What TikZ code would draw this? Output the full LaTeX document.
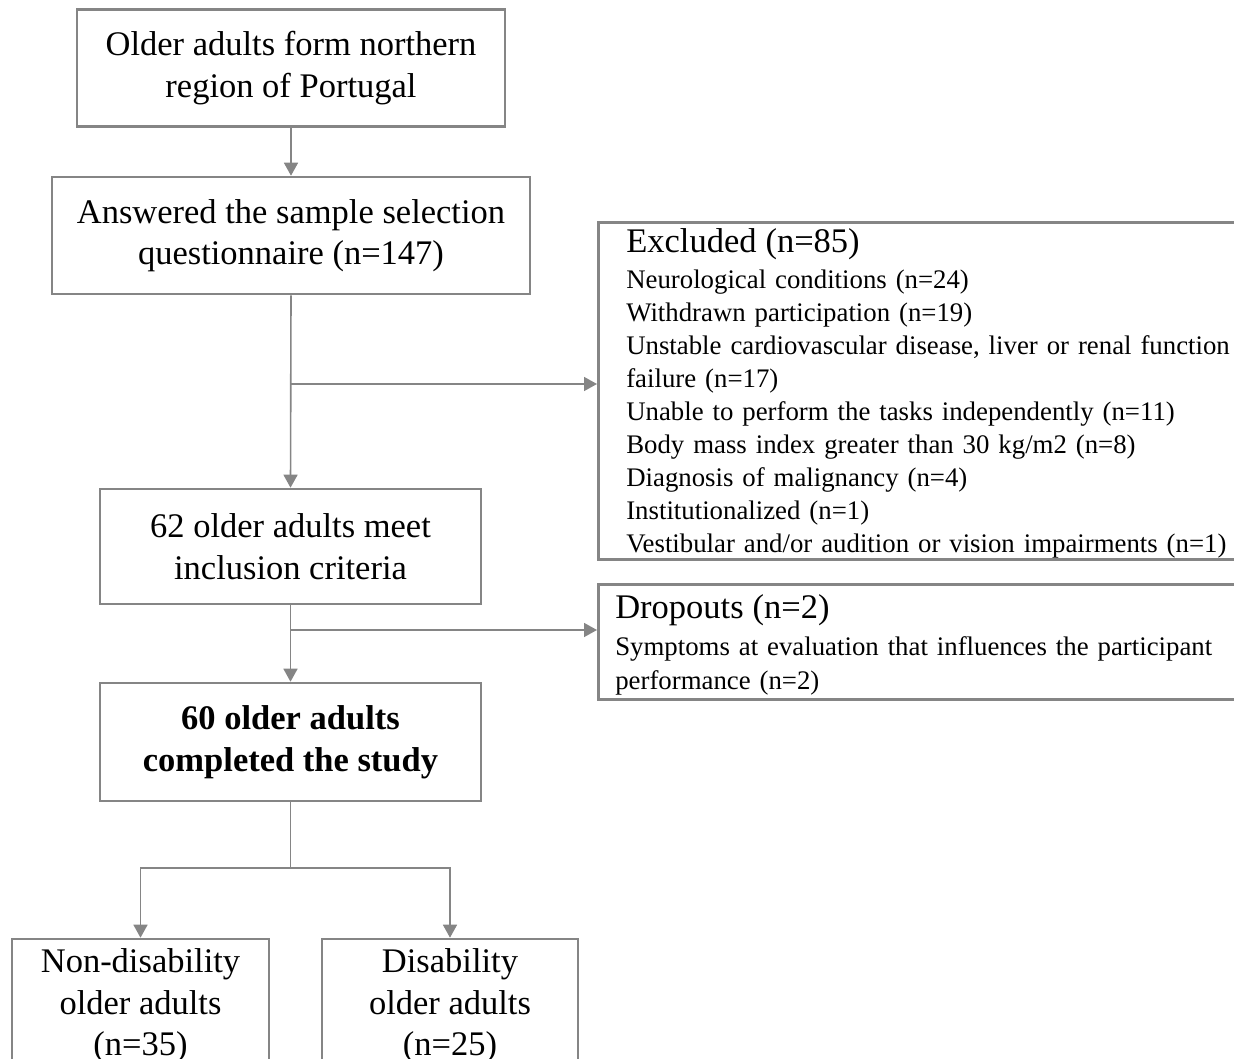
\documentclass[tikz,border=0pt]{standalone}
\usepackage{fontspec}
\setmainfont{Liberation Serif}
\usetikzlibrary{arrows.meta}
\definecolor{lc}{HTML}{858585}
\begin{document}
\begin{tikzpicture}[x=1pt,y=-1pt,
  box/.style={draw=lc, line width=2.6pt, align=center, inner sep=0pt,
    font=\fontsize{34.5}{41.5}\selectfont},
  sidebox/.style={draw=lc, line width=2.6pt, align=left, anchor=north west,
    inner ysep=0pt, font=\fontsize{26.8}{33}\selectfont},
  conn/.style={draw=lc, line width=1.6pt},
  arr/.style={conn, -{Triangle[length=13pt,width=14pt]}}]
\useasboundingbox (0,0) rectangle (1234,1059);
\clip (0,0) rectangle (1234,1059);
% main column
\node[box, minimum width=428, minimum height=117] (b1) at (291,68)
  {Older adults form northern\\region of Portugal};
\node[box, minimum width=478, minimum height=117] (b2) at (291,235.5)
  {Answered the sample selection\\questionnaire (n=147)};
\node[box, minimum width=381, minimum height=115] (b3) at (290.5,546.5)
  {62 older adults meet\\inclusion criteria};
\node[box, minimum width=381, minimum height=118, font=\fontsize{34.5}{41.5}\selectfont\bfseries] (b4) at (290.5,742)
  {60 older adults\\completed the study};
\node[box, minimum width=257, minimum height=134] (b5) at (140.5,1006)
  {Non-disability\\older adults\\(n=35)};
\node[box, minimum width=256, minimum height=134] (b6) at (450,1006)
  {Disability\\older adults\\(n=25)};
% side boxes
\node[sidebox, text width=660pt, inner xsep=28pt, minimum height=337] (ex) at (597,221)
  {{\fontsize{34.5}{33}\selectfont\rule{0pt}{30pt}Excluded (n=85)}\\[3pt]
   Neurological conditions (n=24)\\
   Withdrawn participation (n=19)\\
   Unstable cardiovascular disease, liver or renal function\\
   failure (n=17)\\
   Unable to perform the tasks independently (n=11)\\
   Body mass index greater than 30 kg/m2 (n=8)\\
   Diagnosis of malignancy (n=4)\\
   Institutionalized (n=1)\\
   Vestibular and/or audition or vision impairments (n=1)};
\node[sidebox, text width=660pt, inner xsep=17pt, minimum height=115, font=\fontsize{26.8}{34}\selectfont] (dr) at (597,583)
  {{\fontsize{34.5}{34}\selectfont\rule{0pt}{30pt}Dropouts (n=2)}\\[2.5pt]
   Symptoms at evaluation that influences the participant\\
   performance (n=2)};
% connectors
\coordinate (j1) at (b2.south |- 0,384);
\coordinate (j2) at (b3.south |- 0,630);
\coordinate (j3) at (b4.south |- 0,868);
\draw[arr] (b1.south) -- (b2.north);
\draw[arr] (b2.south) -- (b3.north);
\draw[arr] (j1) -- (j1 -| ex.west);
\draw[arr] (b3.south) -- (b4.north);
\draw[arr] (j2) -- (j2 -| dr.west);
\draw[conn] (b4.south) -- (j3);
\draw[arr] (j3) -| (b5.north);
\draw[arr] (j3) -| (b6.north);
\end{tikzpicture}
\end{document}
